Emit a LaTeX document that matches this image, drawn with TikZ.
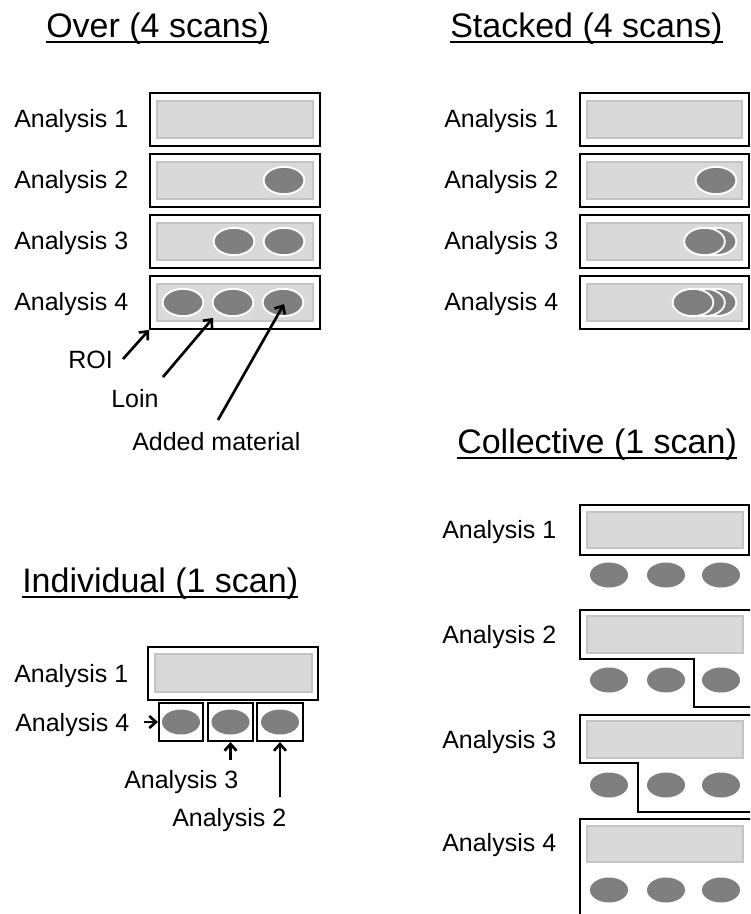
\documentclass[tikz,border=0pt]{standalone}
\usepackage{fontspec}
\setmainfont{Liberation Sans}
\usetikzlibrary{shapes.geometric,arrows.meta}
\definecolor{roifill}{HTML}{D9D9D9}
\definecolor{roiline}{HTML}{C4C4C4}
\definecolor{loincol}{HTML}{7F7F7F}
\begin{document}
\begin{tikzpicture}[x=0.75pt,y=-0.75pt,
  outer/.style={draw=black,line width=1.6pt,fill=white,inner sep=0pt},
  roi/.style={draw=roiline,fill=roifill,line width=1.3pt,inner sep=0pt},
  loinw/.style={ellipse,fill=loincol,draw=white,line width=1.4pt,minimum width=30.5pt,minimum height=20.5pt,inner sep=0pt},
  loinb/.style={ellipse,fill=loincol,minimum width=28.5pt,minimum height=18.75pt,inner sep=0pt},
  lab/.style={anchor=base west,inner sep=0pt,font=\fontsize{18.75}{21}\selectfont},
  ttl/.style={anchor=base west,inner sep=0pt,font=\fontsize{25.5}{29}\selectfont},
  uline/.style={line width=1.6pt},
  arr/.style={-{Straight Barb[length=5pt,width=9pt]},line width=2pt},
  bigbox/.style={outer,minimum width=127.5pt,minimum height=39.75pt},
  biginner/.style={roi,minimum width=117pt,minimum height=27.75pt},
  stbox/.style={outer,minimum width=126.75pt,minimum height=39.75pt},
  stinner/.style={roi,minimum width=116.25pt,minimum height=27.75pt}
]
\useasboundingbox (0,0) rectangle (750,914);
\clip (0,0) rectangle (750,914);

% ---------- Titles ----------
\node[ttl] (tover) at (46,37) {Over (4 scans)};
\draw[uline] ([yshift=-3.8pt]tover.base west) -- ([yshift=-3.8pt]tover.base east);
\node[ttl] (tstack) at (450,37) {Stacked (4 scans)};
\draw[uline] ([yshift=-3.8pt]tstack.base west) -- ([yshift=-3.8pt]tstack.base east);
\node[ttl] (tcoll) at (457,453) {Collective (1 scan)};
\draw[uline] ([yshift=-3.8pt]tcoll.base west) -- ([yshift=-3.8pt]tcoll.base east);
\node[ttl] (tind) at (22,592) {Individual (1 scan)};
\draw[uline] ([yshift=-3.8pt]tind.base west) -- ([yshift=-3.8pt]tind.base east);

% ---------- Over ----------
\foreach \c [count=\i] in {119.5,180.5,241.5,302.5} {
  \node[bigbox] (ob\i) at (235,\c) {};
  \node[biginner] (oi\i) at (235,\c) {};
  \node[lab] (ol\i) at (14,{\c+7.5}) {Analysis \i};
}
\node[loinw] (o2a) at (284,180.5) {};
\node[loinw] (o3a) at (234,241.5) {};
\node[loinw] (o3b) at (284,241.5) {};
\node[loinw] (o4a) at (183,302.5) {};
\node[loinw] (o4b) at (233,302.5) {};
\node[loinw] (o4c) at (283,302.5) {};

\node[lab] (roit) at (68,368) {ROI};
\node[lab] (loint) at (111,407) {Loin};
\node[lab] (addt) at (132,450) {Added material};
\coordinate (roiS) at (123,359);
\coordinate (roiE) at (149,330);
\coordinate (loinS) at (163,377);
\coordinate (loinE) at (213,318);
\coordinate (addS) at (218,420);
\coordinate (addE) at (284,304);
\draw[arr] (roiS) -- (roiE);
\draw[arr] (loinS) -- (loinE);
\draw[arr] (addS) -- (addE);

% ---------- Stacked ----------
\foreach \c [count=\i] in {119.5,180.5,241.5,302.5} {
  \node[stbox] (sb\i) at (664.5,\c) {};
  \node[stinner] (si\i) at (664.75,\c) {};
  \node[lab] (sl\i) at (444,{\c+7.5}) {Analysis \i};
}
\node[loinw] (s2a) at (716,180.5) {};
\node[loinw] (s3b) at (716,241.5) {};
\node[loinw] (s3a) at (704.5,241.5) {};
\node[loinw] (s4c) at (716,302.5) {};
\node[loinw] (s4b) at (704.5,302.5) {};
\node[loinw] (s4a) at (693,302.5) {};

% ---------- Collective ----------
\draw[outer] (580,505) rectangle (749,555);
\draw[outer] (760,707) -- (694,707) -- (694,659) -- (580,659) -- (580,610) -- (760,610);
\draw[outer] (760,812) -- (638,812) -- (638,763) -- (580,763) -- (580,715) -- (760,715);
\draw[outer] (580,819) rectangle (760,930);
\foreach \t/\b/\e [count=\i] in {512/548/575,616/653/680,721/758/785,826/862/890} {
  \draw[roi] (587,\t) rectangle (743,\b);
  \node[loinb] (c\i a) at (609,\e) {};
  \node[loinb] (c\i b) at (666,\e) {};
  \node[loinb] (c\i c) at (721,\e) {};
}
\node[lab] (cl1) at (442,538) {Analysis 1};
\node[lab] (cl2) at (442,643) {Analysis 2};
\node[lab] (cl3) at (442,748) {Analysis 3};
\node[lab] (cl4) at (442,851) {Analysis 4};

% ---------- Individual ----------
\node[outer,minimum width=127.5pt,minimum height=39.75pt] (ib) at (233,673.5) {};
\node[roi,minimum width=117.75pt,minimum height=28.5pt] (ii) at (233.5,673) {};
\node[outer,minimum width=33pt,minimum height=28.5pt] (ib4) at (181,722) {};
\node[outer,minimum width=33.75pt,minimum height=28.5pt] (ib3) at (230.5,722) {};
\node[outer,minimum width=34.5pt,minimum height=28.5pt] (ib2) at (280,722) {};
\node[loinb] (ie4) at (181,722) {};
\node[loinb] (ie3) at (230.5,722) {};
\node[loinb] (ie2) at (280,722) {};
\node[lab] (il1) at (14,682) {Analysis 1};
\node[lab] (il4) at (15,731) {Analysis 4};
\node[lab] (il3) at (124,788) {Analysis 3};
\node[lab] (il2) at (172,826) {Analysis 2};
\coordinate (a4S) at (144,722);
\coordinate (a3S) at (230.5,760);
\coordinate (a2S) at (280,797);
\draw[arr] (a4S) -- (ib4.west);
\draw[arr] (a3S) -- (ib3.south);
\draw[arr] (a2S) -- (ib2.south);
\end{tikzpicture}
\end{document}
